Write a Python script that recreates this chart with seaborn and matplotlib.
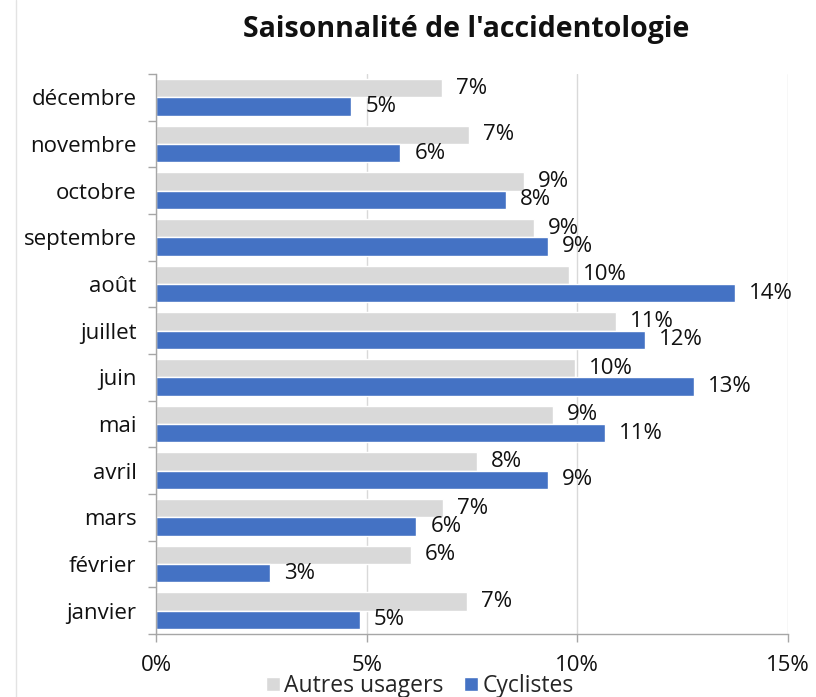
import matplotlib
matplotlib.use("Agg")
import matplotlib.pyplot as plt
from matplotlib.lines import Line2D
import seaborn as sns
import pandas as pd

months = ["décembre", "novembre", "octobre", "septembre", "août", "juillet",
          "juin", "mai", "avril", "mars", "février", "janvier"]
autres_usagers = [6.79, 7.43, 8.74, 8.98, 9.81, 10.91, 9.94, 9.43, 7.63, 6.82, 6.06, 7.38]
cyclistes = [4.64, 5.80, 8.31, 9.30, 13.75, 11.60, 12.78, 10.65, 9.30, 6.18, 2.71, 4.84]
series = ["Autres usagers", "Cyclistes"]
x_ticks = [0, 5, 10, 15]
title = "Saisonnalité de l'accidentologie"

df = pd.DataFrame({
    "mois": months * 2,
    "part": autres_usagers + cyclistes,
    "groupe": [series[0]] * len(months) + [series[1]] * len(months),
})

sns.set_theme(style="white")
plt.rcParams["font.family"] = ["Open Sans", "DejaVu Sans"]

GRAY = "#D9D9D9"
BLUE = "#4472C4"
AXIS = "#A6A6A6"
TEXT = "#111111"
FS = 16

fig = plt.figure(figsize=(8.16, 6.97), dpi=100)
ax = fig.add_axes([156 / 816, 1 - 634 / 697, (788 - 156) / 816, (634 - 74) / 697])

sns.barplot(data=df, x="part", y="mois", hue="groupe", order=months,
            hue_order=series, palette=[GRAY, BLUE], orient="h",
            width=0.79, gap=0, saturation=1, ax=ax, legend=True)

for cont in ax.containers:
    ax.bar_label(cont, labels=[f"{v:.0f}%" for v in cont.datavalues],
                 padding=10, fontsize=FS, color=TEXT)

ax.set_xlim(0, 15)
ax.set_ylim(len(months) - 0.5, -0.5)
ax.set_xticks(x_ticks)
ax.set_xticklabels([f"{t}%" for t in x_ticks], fontsize=FS, color=TEXT)
ax.set_yticks(range(len(months)))
ax.set_yticklabels(months, fontsize=FS, color=TEXT)
ax.set_yticks([i - 0.5 for i in range(len(months) + 1)], minor=True)
ax.tick_params(axis="y", which="major", length=0, pad=14)
ax.tick_params(axis="y", which="minor", length=6, width=1, color=AXIS, left=True)
ax.tick_params(axis="x", which="major", length=6, width=1, color=AXIS,
               bottom=True, pad=9)
ax.set_xlabel("")
ax.set_ylabel("")

ax.grid(axis="x", color=GRAY, linewidth=1)
ax.set_axisbelow(True)
for side in ["top", "right"]:
    ax.spines[side].set_visible(False)
for side in ["left", "bottom"]:
    ax.spines[side].set_color(AXIS)
    ax.spines[side].set_linewidth(1)

handles, labels = ax.get_legend_handles_labels()
ax.legend_.remove()
fig.legend(handles, labels, loc="center", bbox_to_anchor=(420 / 816, 1 - 686 / 697),
           ncol=2, frameon=False, fontsize=16.5, handlelength=0.6, handleheight=0.6,
           handletextpad=0.2, columnspacing=0.9, borderpad=0)

fig.text(466 / 816, 1 - 30 / 697, title, ha="center", va="center",
         fontsize=20.5, fontweight="bold", color=TEXT)

fig.add_artist(Line2D([16 / 816, 16 / 816], [0, 1], transform=fig.transFigure,
                      color="#E3E3E3", linewidth=1))

fig.savefig("out.png", dpi=100)
